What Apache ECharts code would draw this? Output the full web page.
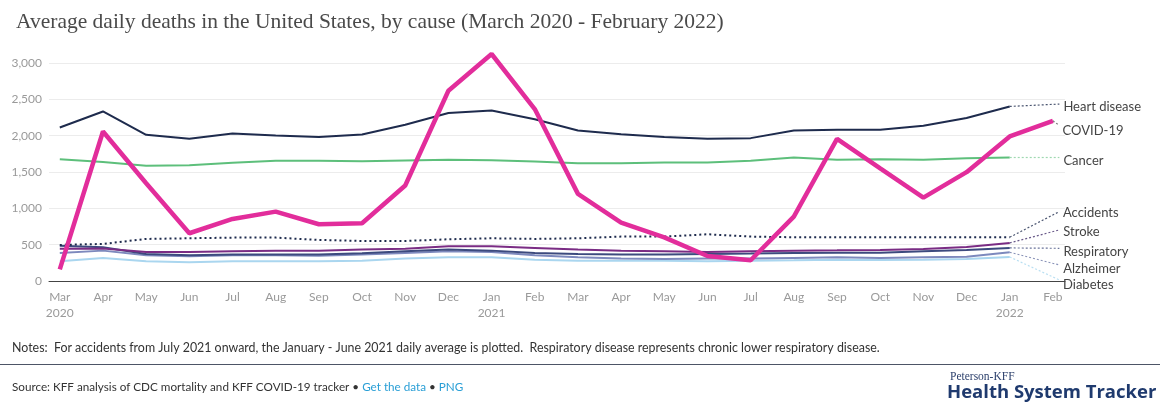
<!DOCTYPE html>
<html>
<head>
<meta charset="utf-8">
<title>Average daily deaths in the United States, by cause</title>
<script src="https://cdn.jsdelivr.net/npm/echarts@6/dist/echarts.min.js"></script>
<style>
  html, body { margin: 0; padding: 0; background: #fff; }
  #chart { width: 1170px; height: 403px; }
</style>
</head>
<body>
<div id="chart"></div>
<script>
// months from March 2020 to February 2022
var months = ['Mar', 'Apr', 'May', 'Jun', 'Jul', 'Aug', 'Sep', 'Oct', 'Nov', 'Dec', 'Jan', 'Feb',
  'Mar', 'Apr', 'May', 'Jun', 'Jul', 'Aug', 'Sep', 'Oct', 'Nov', 'Dec', 'Jan', 'Feb']
var years = { 0: '2020', 10: '2021', 22: '2022' }

var yTicks = [0, 500, 1000, 1500, 2000, 2500, 3000]

// average daily deaths
var heartDisease = [2113, 2333, 2012, 1957, 2030, 2003, 1980, 2016, 2150, 2311, 2347, 2225,
  2071, 2021, 1980, 1957, 1966, 2071, 2081, 2081, 2136, 2242, 2402]
var covid19 = [160, 2057, 1346, 657, 854, 955, 781, 795, 1315, 2618, 3124, 2366,
  1199, 803, 600, 344, 285, 886, 1957, 1550, 1148, 1498, 1989, 2205]
var cancer = [1677, 1636, 1585, 1594, 1626, 1654, 1654, 1649, 1658, 1667, 1663, 1644,
  1622, 1622, 1630, 1630, 1654, 1699, 1667, 1677, 1667, 1690, 1699]
var accidents = [496, 510, 579, 588, 597, 597, 565, 551, 551, 574, 588, 579,
  588, 611, 611, 643, 611, 602, 602, 602, 602, 602, 602]
var stroke = [445, 448, 400, 400, 409, 418, 418, 432, 445, 478, 478, 455,
  432, 418, 409, 400, 409, 418, 422, 427, 441, 468, 524]
var respiratory = [486, 464, 372, 354, 363, 363, 363, 381, 409, 432, 418, 386,
  372, 363, 363, 372, 377, 386, 390, 390, 409, 427, 455]
var alzheimer = [386, 418, 354, 340, 354, 354, 349, 363, 386, 409, 400, 354,
  326, 308, 304, 308, 308, 317, 326, 317, 326, 335, 395]
var diabetes = [271, 317, 271, 258, 271, 271, 271, 280, 308, 326, 326, 294,
  280, 280, 280, 271, 280, 284, 294, 289, 294, 303, 331]

// where each leader line ends, in deaths (label layout only)
var labelAt = {
  'Heart disease': 2435,
  'COVID-19': 2140,
  'Cancer': 1699,
  'Accidents': 955,
  'Stroke': 703,
  'Respiratory': 450,
  'Alzheimer': 220,
  'Diabetes': 14
}

var chart = echarts.init(document.getElementById('chart'))

var FONT = 'Lato, "Noto Sans", sans-serif'

function makeSeries(name, values, color, width, lineType, leaderColor) {
  var last = values.length - 1
  return {
    name: name,
    type: 'line',
    data: values.map(function (v, i) { return [i, v] }),
    symbol: 'none',
    clip: false,
    z: name === 'COVID-19' ? 5 : 3,
    lineStyle: { color: color, width: width, type: lineType || 'solid' },
    markLine: {
      silent: true,
      symbol: 'none',
      animation: false,
      lineStyle: { color: leaderColor || color, width: 1.2, type: [2, 2] },
      label: {
        show: true,
        position: 'end',
        distance: 4,
        align: 'left',
        verticalAlign: 'middle',
        offset: [0, 3],
        formatter: name,
        color: '#444',
        fontFamily: FONT,
        fontSize: 13
      },
      data: [[
        { coord: [last, values[last]] },
        { coord: [23.15, labelAt[name]] }
      ]]
    }
  }
}

chart.setOption({
  animation: false,
  title: {
    text: 'Average daily deaths in the United States, by cause (March 2020 - February 2022)',
    left: 11,
    top: 6,
    textStyle: {
      fontFamily: '"Liberation Serif", "DejaVu Serif", serif',
      fontSize: 21.5,
      fontWeight: 'normal',
      color: '#4a4a4a'
    }
  },
  grid: {
    left: 49,
    right: 105,
    top: 63,
    bottom: 122
  },
  xAxis: {
    type: 'value',
    min: -0.25,
    max: 23.28,
    splitLine: { show: false },
    axisLine: { show: true, onZero: false, lineStyle: { color: '#444', width: 1 } },
    axisTick: { show: false },
    axisLabel: {
      customValues: months.map(function (m, i) { return i }),
      formatter: function (v) {
        return years[v] ? months[v] + '\n' + years[v] : months[v]
      },
      color: '#9a9a9a',
      fontFamily: FONT,
      fontSize: 12,
      lineHeight: 16,
      margin: 8
    }
  },
  yAxis: {
    type: 'value',
    min: 0,
    max: 3000,
    interval: 500,
    axisLine: { show: false },
    axisTick: { show: false },
    axisLabel: {
      customValues: yTicks,
      formatter: function (v) { return v.toLocaleString('en-US') },
      color: '#9a9a9a',
      fontFamily: FONT,
      fontSize: 12,
      margin: 7
    },
    splitLine: { lineStyle: { color: '#ececec', width: 1 } }
  },
  series: [
    makeSeries('Diabetes', diabetes, '#aad6ef', 2, null, '#b9dff2'),
    makeSeries('Alzheimer', alzheimer, '#7d89bd', 2, null, '#8a93b8'),
    makeSeries('Respiratory', respiratory, '#3c4a7e', 2, null, '#6a7399'),
    makeSeries('Stroke', stroke, '#7a2c84', 2, null, '#6a5a8a'),
    makeSeries('Accidents', accidents, '#1e2b4d', 2, [2, 3], '#4a5570'),
    makeSeries('Cancer', cancer, '#5dbf7b', 2, null, '#9fd8b0'),
    makeSeries('Heart disease', heartDisease, '#1e2b4d', 2, null, '#4a5570'),
    makeSeries('COVID-19', covid19, '#e22d9b', 4.5, null, '#777')
  ],
  graphic: [
    {
      type: 'text',
      left: 12,
      top: 342,
      style: {
        text: 'Notes:  For accidents from July 2021 onward, the January - June 2021 daily average is plotted.  Respiratory disease represents chronic lower respiratory disease.',
        fill: '#333',
        font: '12.4px ' + FONT
      }
    },
    {
      type: 'line',
      shape: { x1: 0, y1: 364.5, x2: 1160, y2: 364.5 },
      style: { stroke: '#4d5566', lineWidth: 1 }
    },
    {
      type: 'text',
      left: 12,
      top: 381,
      style: {
        text: '{s|Source: KFF analysis of CDC mortality and KFF COVID-19 tracker • }{l|Get the data}{s| • }{l|PNG}',
        font: '11.7px ' + FONT,
        rich: {
          s: { fill: '#333', font: '11.7px ' + FONT },
          l: { fill: '#2a9fd6', font: '11.7px ' + FONT }
        }
      }
    },
    {
      type: 'text',
      left: 950,
      top: 371,
      style: {
        text: 'Peterson-KFF',
        fill: '#2b3f6b',
        font: '11.5px "Liberation Serif", serif'
      }
    },
    {
      type: 'text',
      left: 947,
      top: 383,
      style: {
        text: 'Health System Tracker',
        fill: '#1f3a6e',
        font: 'bold 18.5px "Open Sans", Lato, sans-serif'
      }
    }
  ]
})
</script>
</body>
</html>
